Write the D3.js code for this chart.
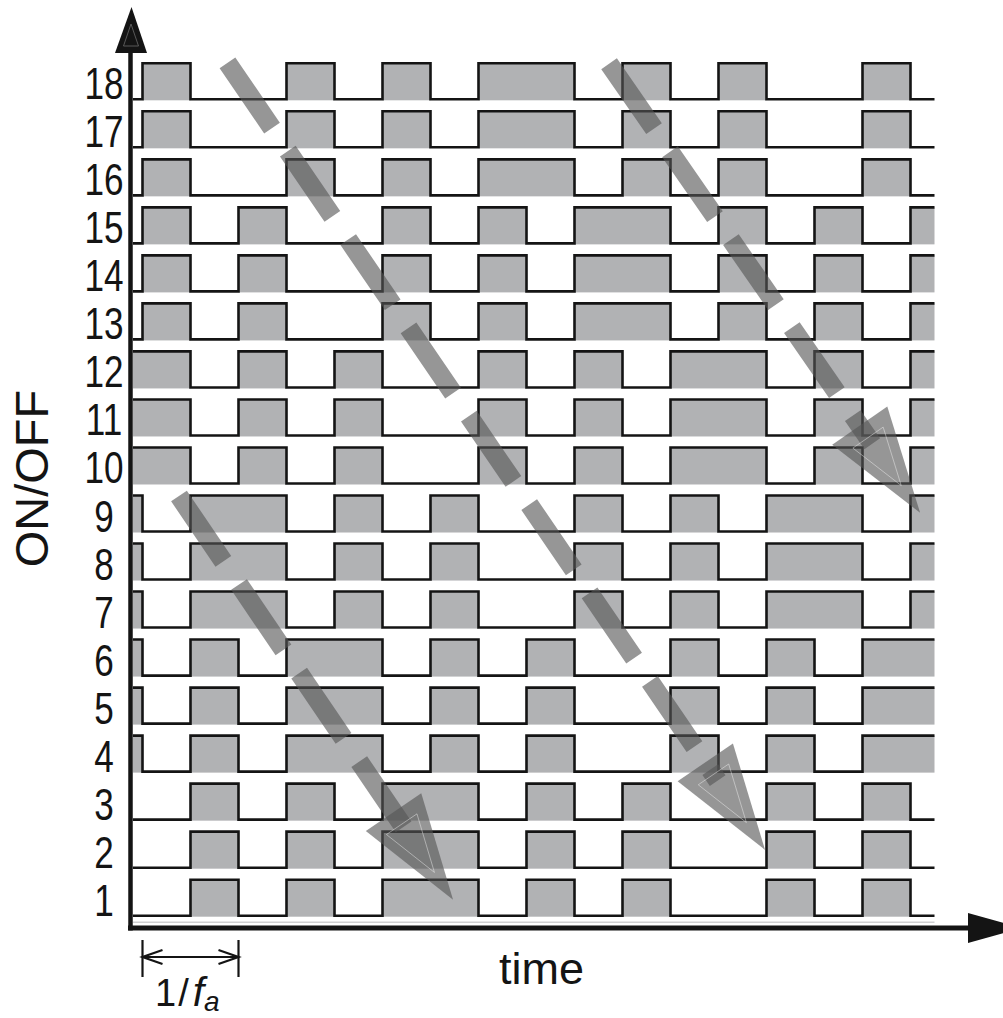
<!DOCTYPE html>
<html>
<head>
<meta charset="utf-8">
<script src="https://cdn.jsdelivr.net/npm/d3@7"></script>
<style>
  html, body { margin: 0; padding: 0; background: #fff; }
  svg { display: block; }
</style>
</head>
<body>
<svg id="chart" width="1003" height="1018"></svg>
<script>
// ---- data -------------------------------------------------------------
// Channel numbers on the vertical axis
const rowLabels = d3.range(1, 19);

// Time span of every trace, in half-periods of f_a
const timeStart = -0.2;
const timeEnd = 16.5;

// ON intervals [start, end] of each channel (index 0 = channel 1)
const onIntervals = [
  [[1, 2], [3, 4], [5, 7], [8, 9], [10, 11], [13, 14], [15, 16]],                    // 1
  [[1, 2], [3, 4], [5, 7], [8, 9], [10, 11], [13, 14], [15, 16]],                    // 2
  [[1, 2], [3, 4], [5, 7], [8, 9], [10, 11], [13, 14], [15, 16]],                    // 3
  [[-0.2, 0], [1, 2], [3, 5], [6, 7], [8, 9], [11, 12], [13, 14], [15, 16.5]],       // 4
  [[-0.2, 0], [1, 2], [3, 5], [6, 7], [8, 9], [11, 12], [13, 14], [15, 16.5]],       // 5
  [[-0.2, 0], [1, 2], [3, 5], [6, 7], [8, 9], [11, 12], [13, 14], [15, 16.5]],       // 6
  [[-0.2, 0], [1, 3], [4, 5], [6, 7], [9, 10], [11, 12], [13, 15], [16, 16.5]],      // 7
  [[-0.2, 0], [1, 3], [4, 5], [6, 7], [9, 10], [11, 12], [13, 15], [16, 16.5]],      // 8
  [[-0.2, 0], [1, 3], [4, 5], [6, 7], [9, 10], [11, 12], [13, 15], [16, 16.5]],      // 9
  [[-0.2, 1], [2, 3], [4, 5], [7, 8], [9, 10], [11, 13], [14, 15], [16, 16.5]],      // 10
  [[-0.2, 1], [2, 3], [4, 5], [7, 8], [9, 10], [11, 13], [14, 15], [16, 16.5]],      // 11
  [[-0.2, 1], [2, 3], [4, 5], [7, 8], [9, 10], [11, 13], [14, 15], [16, 16.5]],      // 12
  [[0, 1], [2, 3], [5, 6], [7, 8], [9, 11], [12, 13], [14, 15], [16, 16.5]],         // 13
  [[0, 1], [2, 3], [5, 6], [7, 8], [9, 11], [12, 13], [14, 15], [16, 16.5]],         // 14
  [[0, 1], [2, 3], [5, 6], [7, 8], [9, 11], [12, 13], [14, 15], [16, 16.5]],         // 15
  [[0, 1], [3, 4], [5, 6], [7, 9], [10, 11], [12, 13], [15, 16]],                    // 16
  [[0, 1], [3, 4], [5, 6], [7, 9], [10, 11], [12, 13], [15, 16]],                    // 17
  [[0, 1], [3, 4], [5, 6], [7, 9], [10, 11], [12, 13], [15, 16]]                     // 18
];

// Propagation arrows: start and tip as [time, channel]
const arrowStarts = [[1.77, 18.76], [9.72, 18.74], [0.76, 9.74]];
const arrowTips   = [[12.97, 2.37], [16.2, 9.39], [6.47, 1.33]];

// One period 1/f_a, marked below the time axis
const periodMarks = [0, 2];

// ---- scales -----------------------------------------------------------
const x = d3.scaleLinear().domain([0, 16]).range([142.5, 910.5]);
const y = d3.scaleLinear().domain([1, 18]).range([915.7, 99.3]);
const onLevel = 0.75;   // height of the ON level in channel units

const svg = d3.select("#chart");
svg.append("rect").attr("width", 1003).attr("height", 1018).attr("fill", "#fff");

const fillGrey = "#b1b2b4";
const ink = "#141414";

// ---- ON shading -------------------------------------------------------
const gFill = svg.append("g");
rowLabels.forEach((r, i) => {
  gFill.selectAll(null)
    .data(onIntervals[i])
    .join("rect")
    .attr("x", d => x(d[0]))
    .attr("width", d => x(d[1]) - x(d[0]))
    .attr("y", y(r + onLevel))
    .attr("height", y(r) - y(r + onLevel) + 1)
    .attr("fill", fillGrey);
});

// thin light rule beneath channel 1
svg.append("line")
  .attr("x1", x(timeStart)).attr("x2", x(timeEnd))
  .attr("y1", y(1) + 6.5).attr("y2", y(1) + 6.5)
  .attr("stroke", "#cfcfd1").attr("stroke-width", 1.6);

// ---- ON/OFF traces ----------------------------------------------------
const gTrace = svg.append("g");
rowLabels.forEach((r, i) => {
  const iv = onIntervals[i];
  const pts = [];
  const startOn = iv.some(d => d[0] <= timeStart);
  pts.push([timeStart, startOn ? 1 : 0]);
  iv.forEach(d => {
    if (d[0] > timeStart) pts.push([d[0], 1]);
    if (d[1] < timeEnd) pts.push([d[1], 0]);
  });
  const last = pts[pts.length - 1][1];
  pts.push([timeEnd, last]);
  const line = d3.line()
    .x(d => x(d[0]))
    .y(d => y(r + d[1] * onLevel))
    .curve(d3.curveStepAfter);
  gTrace.append("path")
    .attr("d", line(pts))
    .attr("fill", "none")
    .attr("stroke", ink)
    .attr("stroke-width", 2.6)
    .attr("stroke-linejoin", "miter");
});

// ---- axes -------------------------------------------------------------
const axisY = 928;
const axisX = 130.5;
const gAxis = svg.append("g");
// time axis
gAxis.append("line")
  .attr("x1", 128).attr("x2", 970)
  .attr("y1", axisY).attr("y2", axisY)
  .attr("stroke", ink).attr("stroke-width", 5);
gAxis.append("path")
  .attr("d", `M968,${axisY - 15}L1022,${axisY}L968,${axisY + 15}Z`)
  .attr("fill", ink);
// ON/OFF axis
gAxis.append("line")
  .attr("x1", axisX).attr("x2", axisX)
  .attr("y1", axisY + 2.5).attr("y2", 50)
  .attr("stroke", ink).attr("stroke-width", 4.5);
gAxis.append("path")
  .attr("d", `M${axisX - 15.5},53L${axisX + 1},7L${axisX + 16.5},53Z`)
  .attr("fill", ink);
gAxis.append("path")
  .attr("d", `M${axisX - 7},46L${axisX + 0.5},24L${axisX + 8},46Z`)
  .attr("fill", "none").attr("stroke", "#6a6a6a").attr("stroke-width", 0.8);

// channel numbers
const gLab = svg.append("g")
  .attr("font-family", "'Liberation Sans', Arial, sans-serif")
  .attr("font-size", 45)
  .attr("fill", ink);
gLab.selectAll("text")
  .data(rowLabels)
  .join("text")
  .attr("transform", d => `translate(104,${y(d)}) scale(0.78,1)`)
  .attr("text-anchor", "middle")
  .text(d => d);

// axis titles
svg.append("text")
  .attr("transform", "translate(48,478.5) rotate(-90)")
  .attr("text-anchor", "middle")
  .attr("font-family", "'Liberation Sans', Arial, sans-serif")
  .attr("font-size", 47)
  .attr("fill", ink)
  .text("ON/OFF");

svg.append("text")
  .attr("x", 541.5).attr("y", 984)
  .attr("text-anchor", "middle")
  .attr("font-family", "'Liberation Sans', Arial, sans-serif")
  .attr("font-size", 45)
  .attr("fill", ink)
  .text("time");

// ---- period marker 1/f_a ---------------------------------------------
const gPer = svg.append("g").attr("stroke", ink).attr("fill", "none").attr("stroke-width", 2.2);
const px0 = x(periodMarks[0]), px1 = x(periodMarks[1]);
periodMarks.forEach(t => {
  gPer.append("line").attr("x1", x(t)).attr("x2", x(t)).attr("y1", 940).attr("y2", 977);
});
gPer.append("line").attr("x1", px0).attr("x2", px1).attr("y1", 957).attr("y2", 957);
gPer.append("path").attr("d", `M${px0 + 20},950L${px0},957L${px0 + 20},964`);
gPer.append("path").attr("d", `M${px1 - 20},950L${px1},957L${px1 - 20},964`);

const perText = svg.append("text")
  .attr("x", 155).attr("y", 1006)
  .attr("font-family", "'Liberation Sans', Arial, sans-serif")
  .attr("font-size", 38)
  .attr("fill", ink);
perText.append("tspan").text("1");
perText.append("tspan").attr("dx", 2).text("/");
perText.append("tspan").attr("dx", 4).attr("font-style", "italic").attr("font-size", 41).text("f");
perText.append("tspan").attr("dx", 0).attr("dy", 5).attr("font-style", "italic")
  .attr("font-size", 28).text("a");

// ---- propagation arrows ----------------------------------------------
const arrowColor = "#565656", arrowAlpha = 0.62;
const dashLen = 79, gapLen = 28, shaftW = 19, headLen = 106, headHalf = 33.5;
const gArr = svg.append("g");
arrowStarts.forEach((s, i) => {
  const e = arrowTips[i];
  const sx = x(s[0]), sy = y(s[1]), ex = x(e[0]), ey = y(e[1]);
  const L = Math.hypot(ex - sx, ey - sy);
  const ux = (ex - sx) / L, uy = (ey - sy) / L;
  const nx = -uy, ny = ux;
  const shaftEnd = L - headLen + 22;
  gArr.append("line")
    .attr("x1", sx).attr("y1", sy)
    .attr("x2", sx + ux * shaftEnd).attr("y2", sy + uy * shaftEnd)
    .attr("stroke", arrowColor).attr("stroke-opacity", arrowAlpha)
    .attr("stroke-width", shaftW)
    .attr("stroke-dasharray", `${dashLen} ${gapLen}`);
  const bx = ex - ux * headLen, by = ey - uy * headLen;
  const tri = [[ex, ey], [bx + nx * headHalf, by + ny * headHalf], [bx - nx * headHalf, by - ny * headHalf]];
  gArr.append("path")
    .attr("d", "M" + tri.map(p => p.join(",")).join("L") + "Z")
    .attr("fill", arrowColor).attr("fill-opacity", arrowAlpha);
  const cx = d3.mean(tri, p => p[0]) - ux * 3, cy = d3.mean(tri, p => p[1]) - uy * 3;
  const inner = tri.map(p => [cx + (p[0] - cx) * 0.55, cy + (p[1] - cy) * 0.55]);
  gArr.append("path")
    .attr("d", "M" + inner.map(p => p.join(",")).join("L") + "Z")
    .attr("fill", "none").attr("stroke", "#ffffff").attr("stroke-opacity", 0.45)
    .attr("stroke-width", 0.9);
});
</script>
</body>
</html>
